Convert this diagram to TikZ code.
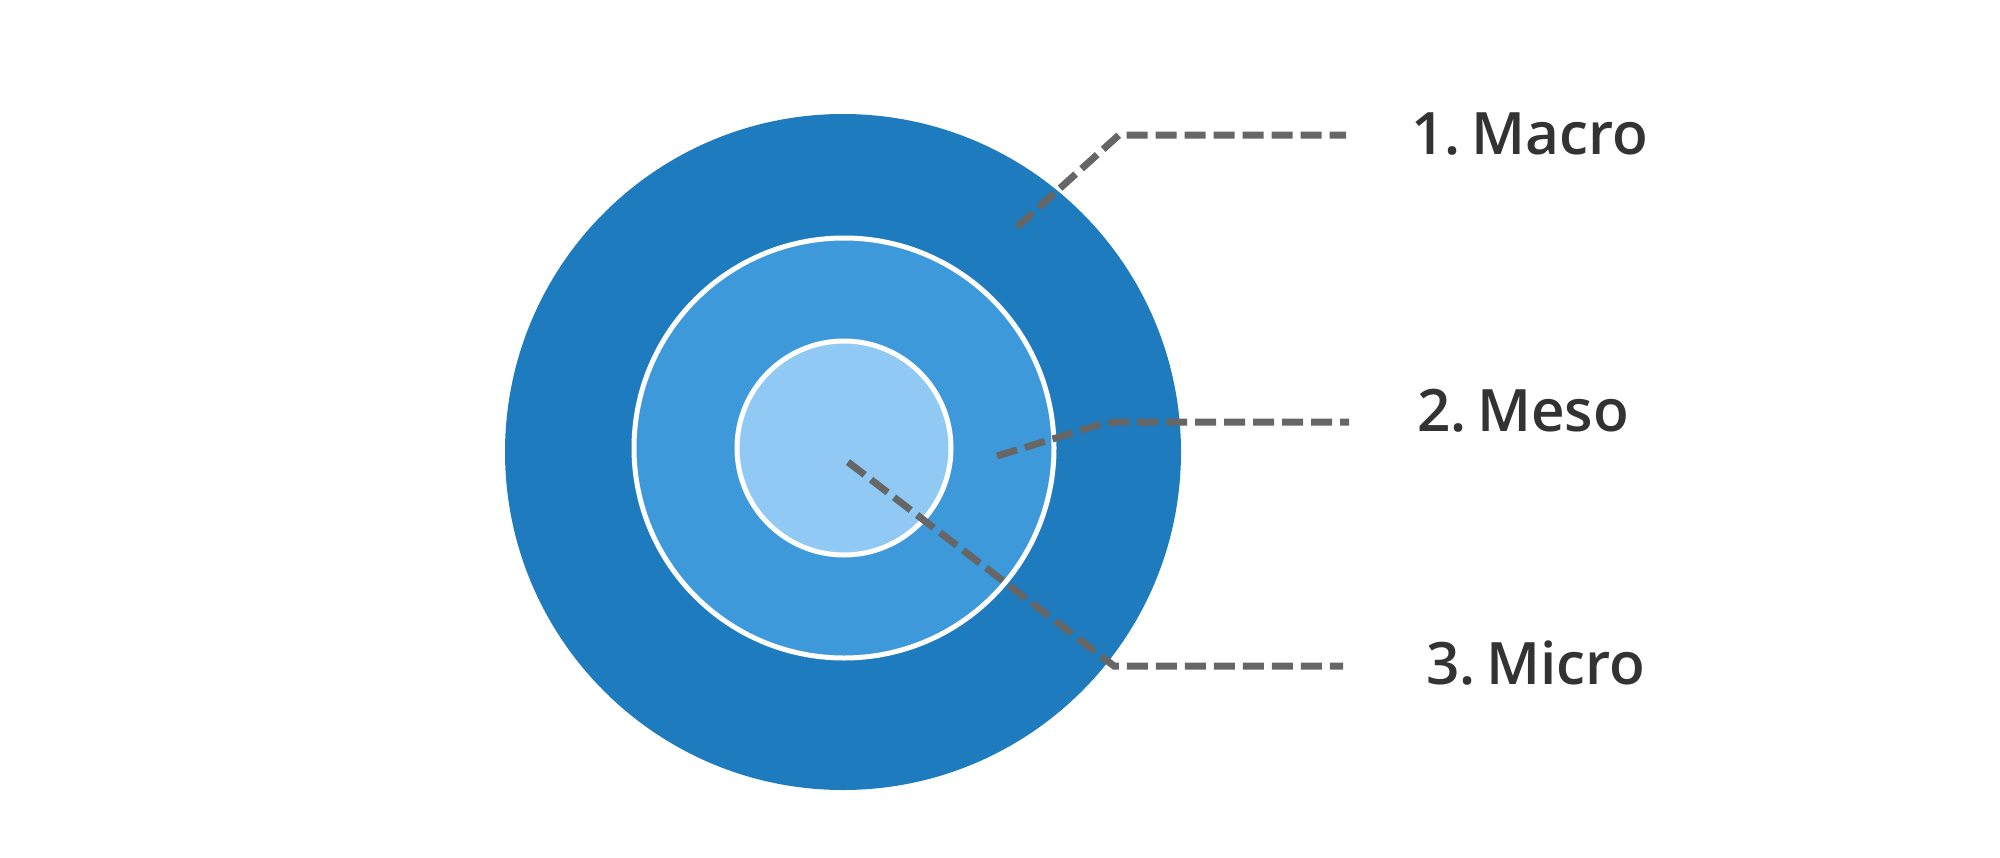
\documentclass[tikz,border=0pt]{standalone}
\usepackage{fontspec}
\setmainfont{Open Sans}
\IfFontExistsTF{Open Sans Semibold}
  {\newfontfamily\labfont{Open Sans Semibold}}
  {\IfFontExistsTF{Open Sans SemiBold}
    {\newfontfamily\labfont{Open Sans SemiBold}}
    {\IfFontExistsTF{Open Sans Bold}
      {\newfontfamily\labfont{Open Sans Bold}}
      {\newfontfamily\labfont{Open Sans}}}}
\definecolor{outerblue}{HTML}{1E7BBE}
\definecolor{midblue}{HTML}{3E99DB}
\definecolor{innerblue}{HTML}{90C9F4}
\definecolor{leadgray}{HTML}{666666}
\definecolor{textgray}{HTML}{333333}
\newcommand{\lsp}{\hspace{0.18em}}
\begin{document}
\begin{tikzpicture}[x=1pt,y=-1pt,
  ring/.style={circle,inner sep=0pt,minimum size=#1},
  leader/.style={draw=leadgray,line width=7pt,dash pattern=on 21pt off 8pt},
  label/.style={anchor=west,inner sep=0pt,text=textgray,font=\labfont\fontsize{58.5}{62}\selectfont}]
\useasboundingbox (0,0) rectangle (2000,857);
\node[ring=676pt,fill=outerblue] (outer) at (843,452) {};
\node[ring=420pt,fill=midblue,draw=white,line width=5pt] (meso) at (844,448) {};
\node[ring=214pt,fill=innerblue,draw=white,line width=5pt] (micro) at (844,448) {};
\coordinate (a1) at (1017,227);
\coordinate (a2) at (1119,135);
\coordinate (a3) at (1346,135);
\coordinate (b1) at (997,456);
\coordinate (b2) at (1108,422);
\coordinate (b3) at (1349,422);
\coordinate (c1) at (848,462);
\coordinate (c2) at (1114,666);
\coordinate (c3) at (1343,666);
\draw[leader] (a1) -- (a2) -- (a3);
\draw[leader,rounded corners=12pt] (b1) -- (b2) -- (b3);
\draw[leader] (c1) -- (c2) -- (c3);
\node[label] (l1) at (1411,134) {1.\lsp Macro};
\node[label] (l2) at (1417,411) {2.\lsp Meso};
\node[label] (l3) at (1426,663) {3.\lsp Micro};
\end{tikzpicture}
\end{document}
